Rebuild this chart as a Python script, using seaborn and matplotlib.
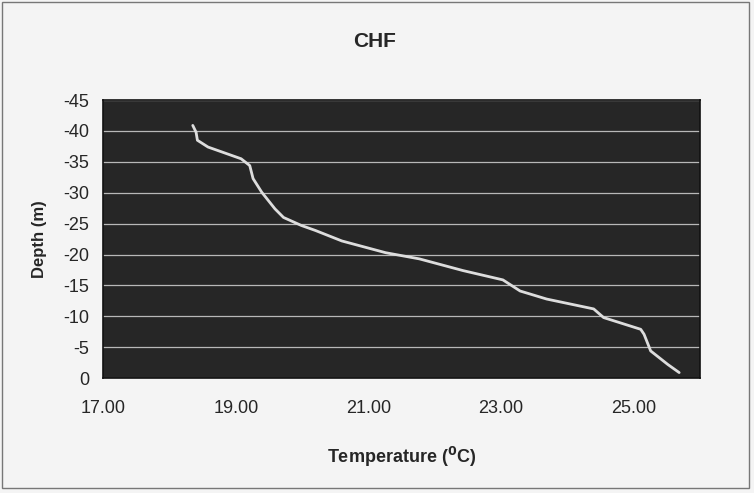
import pandas as pd
import seaborn as sns
import matplotlib.pyplot as plt
from matplotlib.patches import Rectangle

# Temperature profile
temperature = [18.35, 18.40, 18.42, 18.58, 19.08, 19.21, 19.26, 19.39, 19.59, 19.72,
               19.99, 20.20, 20.60, 21.26, 21.77, 22.43, 23.03, 23.29, 23.69, 24.40,
               24.55, 25.11, 25.16, 25.26, 25.52, 25.69]
depth = [-40.9, -39.8, -38.5, -37.4, -35.5, -34.4, -32.3, -30.1, -27.4, -26.0,
         -24.7, -23.9, -22.2, -20.3, -19.3, -17.4, -15.9, -14.1, -12.8, -11.2,
         -9.8, -7.9, -7.1, -4.4, -2.2, -0.9]
x_ticks = [17, 19, 21, 23, 25]
y_ticks = [0, -5, -10, -15, -20, -25, -30, -35, -40, -45]

df = pd.DataFrame({'Temperature': temperature, 'Depth': depth})

sns.set_style('white')
plt.rcParams['font.family'] = ['Liberation Sans', 'DejaVu Sans']
plt.rcParams['axes.unicode_minus'] = False

fig = plt.figure(figsize=(7.54, 4.93), dpi=100, facecolor='#f4f4f4')
ax = fig.add_axes([0.137, 0.233, 0.791, 0.564])
ax.set_facecolor('#262626')

# light frame around the whole chart area
fig.patches.append(Rectangle((0.003, 0.01), 0.99, 0.985, transform=fig.transFigure,
                             fill=False, edgecolor='#777777', linewidth=1))

for y in y_ticks:
    ax.axhline(y, color='#b8b8b8', linewidth=0.9, zorder=1)

sns.lineplot(data=df, x='Temperature', y='Depth', sort=False, estimator=None,
             color='#dddddd', linewidth=2, ax=ax, zorder=3)

ax.set_xlim(17, 26)
ax.set_ylim(0, -45)
ax.set_xticks(x_ticks)
ax.set_xticklabels([f'{t:.2f}' for t in x_ticks])
ax.set_yticks(y_ticks)
ax.tick_params(axis='both', labelsize=13, length=4, color='#333333')
ax.tick_params(axis='x', pad=12)
ax.tick_params(axis='y', pad=6)

for side in ax.spines.values():
    side.set_color('#111111')
    side.set_linewidth(1.2)

ax.set_xlabel(r'Temperature ($\mathbf{^0}$C)', fontsize=13, fontweight='bold', labelpad=20)
ax.set_ylabel('Depth (m)', fontsize=12, fontweight='bold', labelpad=12)
fig.text(0.497, 0.915, 'CHF', ha='center', va='center', fontsize=15, fontweight='bold')

plt.savefig('out.png', dpi=100, facecolor=fig.get_facecolor())
plt.close()
